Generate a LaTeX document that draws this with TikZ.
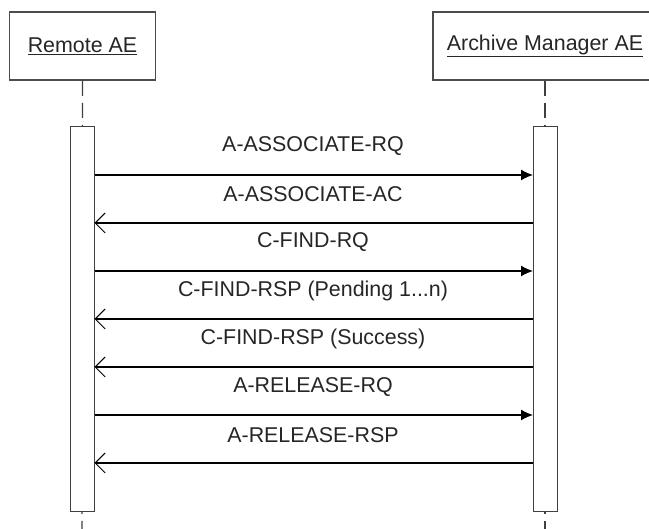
\documentclass[tikz,border=0pt]{standalone}
\usepackage{fontspec}
\setmainfont{Liberation Sans}
\usetikzlibrary{arrows.meta}

\begin{document}
\begin{tikzpicture}[x=1pt,y=-1pt,
  every node/.style={font=\fontsize{21.4}{25}\selectfont, text=black!85},
  actor/.style={draw=black!70, line width=1.6pt, fill=white, minimum height=68pt, inner sep=0pt},
  bar/.style={draw=black!75, line width=1pt, fill=white, minimum width=24pt, minimum height=385pt, inner sep=0pt},
  lifeline/.style={draw=black!75, line width=1.3pt, dash pattern=on 15pt off 7pt},
  call/.style={line width=1.3pt, -{Latex[length=12pt,width=11pt]}},
  reply/.style={line width=1.3pt, -{Straight Barb[length=10pt,width=20pt,line width=1pt]}}]
\clip (0,0) rectangle (649,529);
\fill[white] (0,0) rectangle (649,529);

\node [actor, minimum width=146pt] (Remote) at (82.5,46) {\underline{Remote AE}};
\node [actor, minimum width=224pt] (Archive) at (545,46) {\underline{Archive Manager AE}};
\coordinate (RemoteEnd) at (82,529);
\coordinate (ArchiveEnd) at (545,529);
\draw [lifeline] (Remote.south) -- (RemoteEnd);
\draw [lifeline] (Archive.south) -- (ArchiveEnd);
\node [bar] (RemoteBar) at (82,319.5) {};
\node [bar] (ArchiveBar) at (545,319.5) {};

% Messages between the two AEs
\coordinate (L1) at (94.5,175);  \coordinate (R1) at (533,175);
\coordinate (L2) at (94.5,223);  \coordinate (R2) at (533,223);
\coordinate (L3) at (94.5,271);  \coordinate (R3) at (533,271);
\coordinate (L4) at (94.5,319);  \coordinate (R4) at (533,319);
\coordinate (L5) at (94.5,367);  \coordinate (R5) at (533,367);
\coordinate (L6) at (94.5,415);  \coordinate (R6) at (533,415);
\coordinate (L7) at (94.5,463);  \coordinate (R7) at (533,463);
\draw [call] (L1) -- (R1);
\draw [reply] (R2) -- (L2);
\draw [call] (L3) -- (R3);
\draw [reply] (R4) -- (L4);
\draw [reply] (R5) -- (L5);
\draw [call] (L6) -- (R6);
\draw [reply] (R7) -- (L7);

\node (AssocRQ) at (313,146) {A-ASSOCIATE-RQ};
\node (AssocAC) at (313,194) {A-ASSOCIATE-AC};
\node (FindRQ) at (313,242) {C-FIND-RQ};
\node (FindPending) at (313,291) {C-FIND-RSP (Pending 1...n)};
\node (FindSuccess) at (313,339) {C-FIND-RSP (Success)};
\node (ReleaseRQ) at (313,387) {A-RELEASE-RQ};
\node (ReleaseRSP) at (313,435) {A-RELEASE-RSP};

\end{tikzpicture}
\end{document}
